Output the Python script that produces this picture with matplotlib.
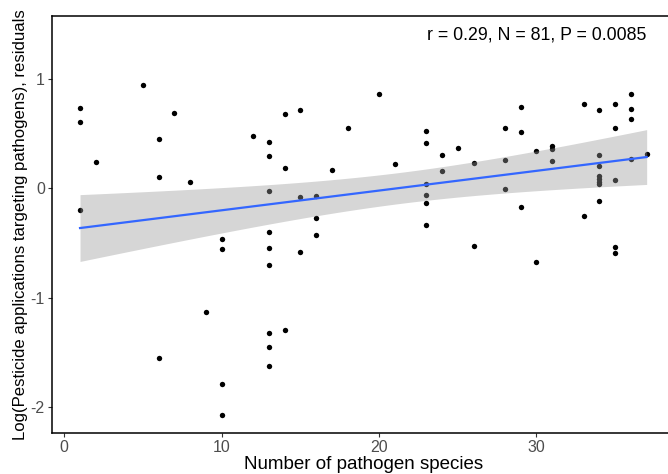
import numpy as np
import matplotlib
matplotlib.use("Agg")
import matplotlib.pyplot as plt

plt.rcParams['font.family'] = ['Liberation Sans', 'DejaVu Sans']
plt.rcParams['axes.unicode_minus'] = False

n_species = [1, 1, 1, 2, 5, 6, 6, 6, 7, 8, 9,
             10, 10, 10, 10, 12,
             13, 13, 13, 13, 13, 13, 13, 13, 13,
             14, 14, 14, 15, 15, 15, 16, 16, 16, 17, 18, 20, 21,
             23, 23, 23, 23, 23, 23, 24, 24, 25, 26, 26,
             28, 28, 28, 29, 29, 29, 30, 30, 31, 31, 31, 33, 33,
             34, 34, 34, 34, 34, 34, 34, 34,
             35, 35, 35, 35, 35, 36, 36, 36, 36, 37]
residuals = [0.735, 0.607, -0.196, 0.239, 0.948, 0.452, 0.108, -1.551, 0.687, 0.056, -1.128,
             -0.465, -0.550, -1.788, -2.071, 0.479,
             0.425, 0.294, -0.020, -0.397, -0.543, -0.696, -1.323, -1.445, -1.621,
             0.677, 0.190, -1.295, 0.720, -0.078, -0.577, -0.068, -0.272, -0.425, 0.166, 0.556, 0.860, 0.221,
             0.525, 0.415, 0.044, -0.059, -0.132, -0.330, 0.306, 0.160, 0.373, 0.230, -0.522,
             0.550, 0.260, -0.008, 0.741, 0.513, -0.169, 0.340, -0.668, 0.390, 0.360, 0.248, 0.770, -0.254,
             0.720, 0.306, 0.208, 0.114, 0.090, 0.062, 0.038, -0.117,
             0.770, 0.550, 0.080, -0.531, -0.592, 0.866, 0.729, 0.638, 0.267, 0.318]
x_ticks = [0, 10, 20, 30]
y_ticks = [-2, -1, 0, 1]
annotation = "r = 0.29, N = 81, P = 0.0085"
x_label = "Number of pathogen species"
y_label = "Log(Pesticide applications targeting pathogens), residuals"

x = np.array(n_species, dtype=float)
y = np.array(residuals, dtype=float)

# OLS fit with 95% confidence band (like ggplot geom_smooth(method="lm"))
n = len(x)
slope, intercept = np.polyfit(x, y, 1)
resid = y - (intercept + slope * x)
s = np.sqrt(np.sum(resid ** 2) / (n - 2))
t_crit = 1.990
xs = np.linspace(x.min(), x.max(), 200)
ys = intercept + slope * xs
se = s * np.sqrt(1.0 / n + (xs - x.mean()) ** 2 / np.sum((x - x.mean()) ** 2))

W, H = 668, 474
fig = plt.figure(figsize=(W / 100, H / 100), dpi=100)
ax = fig.add_axes([51.7 / W, (H - 433) / H, (675 - 51.7) / W, 417 / H])

ax.scatter(x, y, s=15, color='black', linewidths=0, zorder=2)
ax.fill_between(xs, ys - t_crit * se, ys + t_crit * se, color='#999999', alpha=0.4,
                linewidth=0, zorder=3)
ax.plot(xs, ys, color='#3366FF', linewidth=1.6, zorder=4)

ax.set_xlim(-0.8, 38.8)
ax.set_ylim(-2.233, 1.575)
ax.set_xticks(x_ticks)
ax.set_yticks(y_ticks)
ax.tick_params(axis='both', direction='out', length=3, width=0.8, color='#333333',
               labelcolor='#4D4D4D', labelsize=11.5, pad=2)

for side in ['left', 'bottom', 'top']:
    ax.spines[side].set_color('black')
    ax.spines[side].set_linewidth(1.1)
ax.spines['right'].set_visible(False)

ax.set_xlabel(x_label, fontsize=13.5, color='black', labelpad=1)
ax.set_ylabel(y_label, fontsize=12.1, color='black', labelpad=2)

ax.text(30, 1.40, annotation, ha='center', va='center', fontsize=12.8, color='black')

fig.savefig('out.png', dpi=100)
